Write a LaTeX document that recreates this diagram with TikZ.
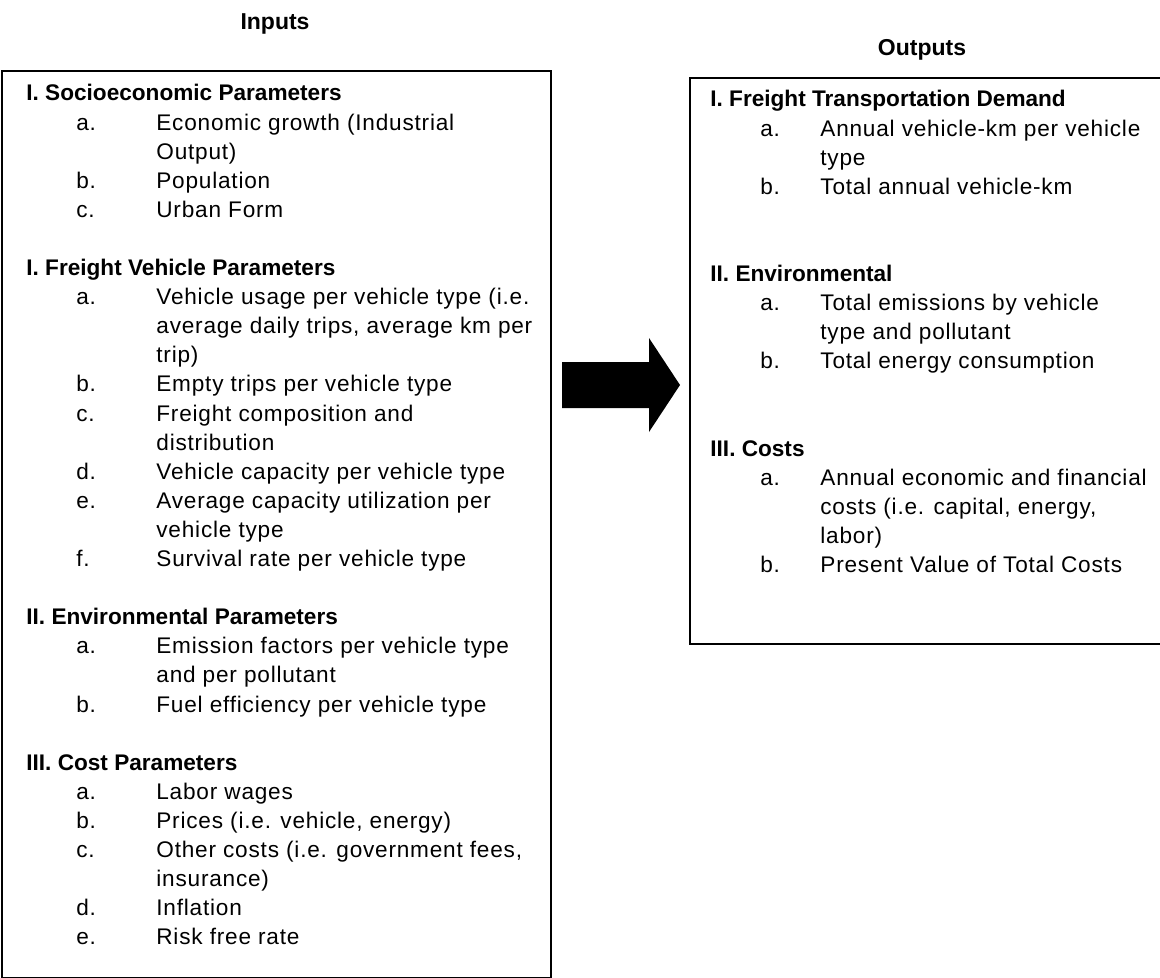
\documentclass[tikz,border=0pt]{standalone}
\usepackage{fontspec}
\setmainfont{Liberation Sans}[UprightFeatures={LetterSpace=3.5}]
\begin{document}
\begin{tikzpicture}[x=0.5pt,y=-0.5pt,
  txt/.style={inner sep=0pt, anchor=base west, align=left,
    font=\fontsize{11.3pt}{14.55pt}\selectfont},
  ttl/.style={inner sep=0pt, anchor=base, font=\fontsize{11.5pt}{14pt}\selectfont\bfseries},
  panel/.style={draw=black, line width=1pt, inner sep=0pt, anchor=north west},
  blockarrow/.style={fill=black}]
\useasboundingbox (0,0) rectangle (1160,978);

% titles
\node[ttl] (tin) at (275,30) {Inputs};
\node[ttl] (tout) at (922,56) {Outputs};

% boxes
\node[panel, minimum width=274.5pt, minimum height=453.5pt] (inbox) at (1,70) {};
\node[panel, minimum width=236pt, minimum height=283pt] (outbox) at (689,77) {};

% arrow
\fill[blockarrow] (562,362) -- (649,362) -- (649,338) -- (680,385) -- (649,432) -- (649,408) -- (562,408) -- cycle;

% input text
\node[txt] (intext) at (26,101) {%
\begin{tabular}[t]{@{\hspace{25pt}}p{40pt}@{}l@{}}
\multicolumn{2}{@{}l@{}}{\bfseries I. Socioeconomic Parameters}\\
a. & Economic growth (Industrial\\
   & Output)\\
b. & Population\\
c. & Urban Form\\
   & \\
\multicolumn{2}{@{}l@{}}{\bfseries I. Freight Vehicle Parameters}\\
a. & Vehicle usage per vehicle type (i.e.\\
   & average daily trips, average km per\\
   & trip)\\
b. & Empty trips per vehicle type\\
c. & Freight composition and\\
   & distribution\\
d. & Vehicle capacity per vehicle type\\
e. & Average capacity utilization per\\
   & vehicle type\\
f. & Survival rate per vehicle type\\
   & \\
\multicolumn{2}{@{}l@{}}{\bfseries II. Environmental Parameters}\\
a. & Emission factors per vehicle type\\
   & and per pollutant\\
b. & Fuel efficiency per vehicle type\\
   & \\
\multicolumn{2}{@{}l@{}}{\bfseries III. Cost Parameters}\\
a. & Labor wages\\
b. & Prices (i.e. vehicle, energy)\\
c. & Other costs (i.e. government fees,\\
   & insurance)\\
d. & Inflation\\
e. & Risk free rate
\end{tabular}};

% output text
\node[txt] (outtext) at (710,107) {%
\begin{tabular}[t]{@{\hspace{25pt}}p{30pt}@{}l@{}}
\multicolumn{2}{@{}l@{}}{\bfseries I. Freight Transportation Demand}\\
a. & Annual vehicle-km per vehicle\\
   & type\\
b. & Total annual vehicle-km\\
   & \\
   & \\
\multicolumn{2}{@{}l@{}}{\bfseries II. Environmental}\\
a. & Total emissions by vehicle\\
   & type and pollutant\\
b. & Total energy consumption\\
   & \\
   & \\
\multicolumn{2}{@{}l@{}}{\bfseries III. Costs}\\
a. & Annual economic and financial\\
   & costs (i.e. capital, energy,\\
   & labor)\\
b. & Present Value of Total Costs
\end{tabular}};
\end{tikzpicture}
\end{document}
